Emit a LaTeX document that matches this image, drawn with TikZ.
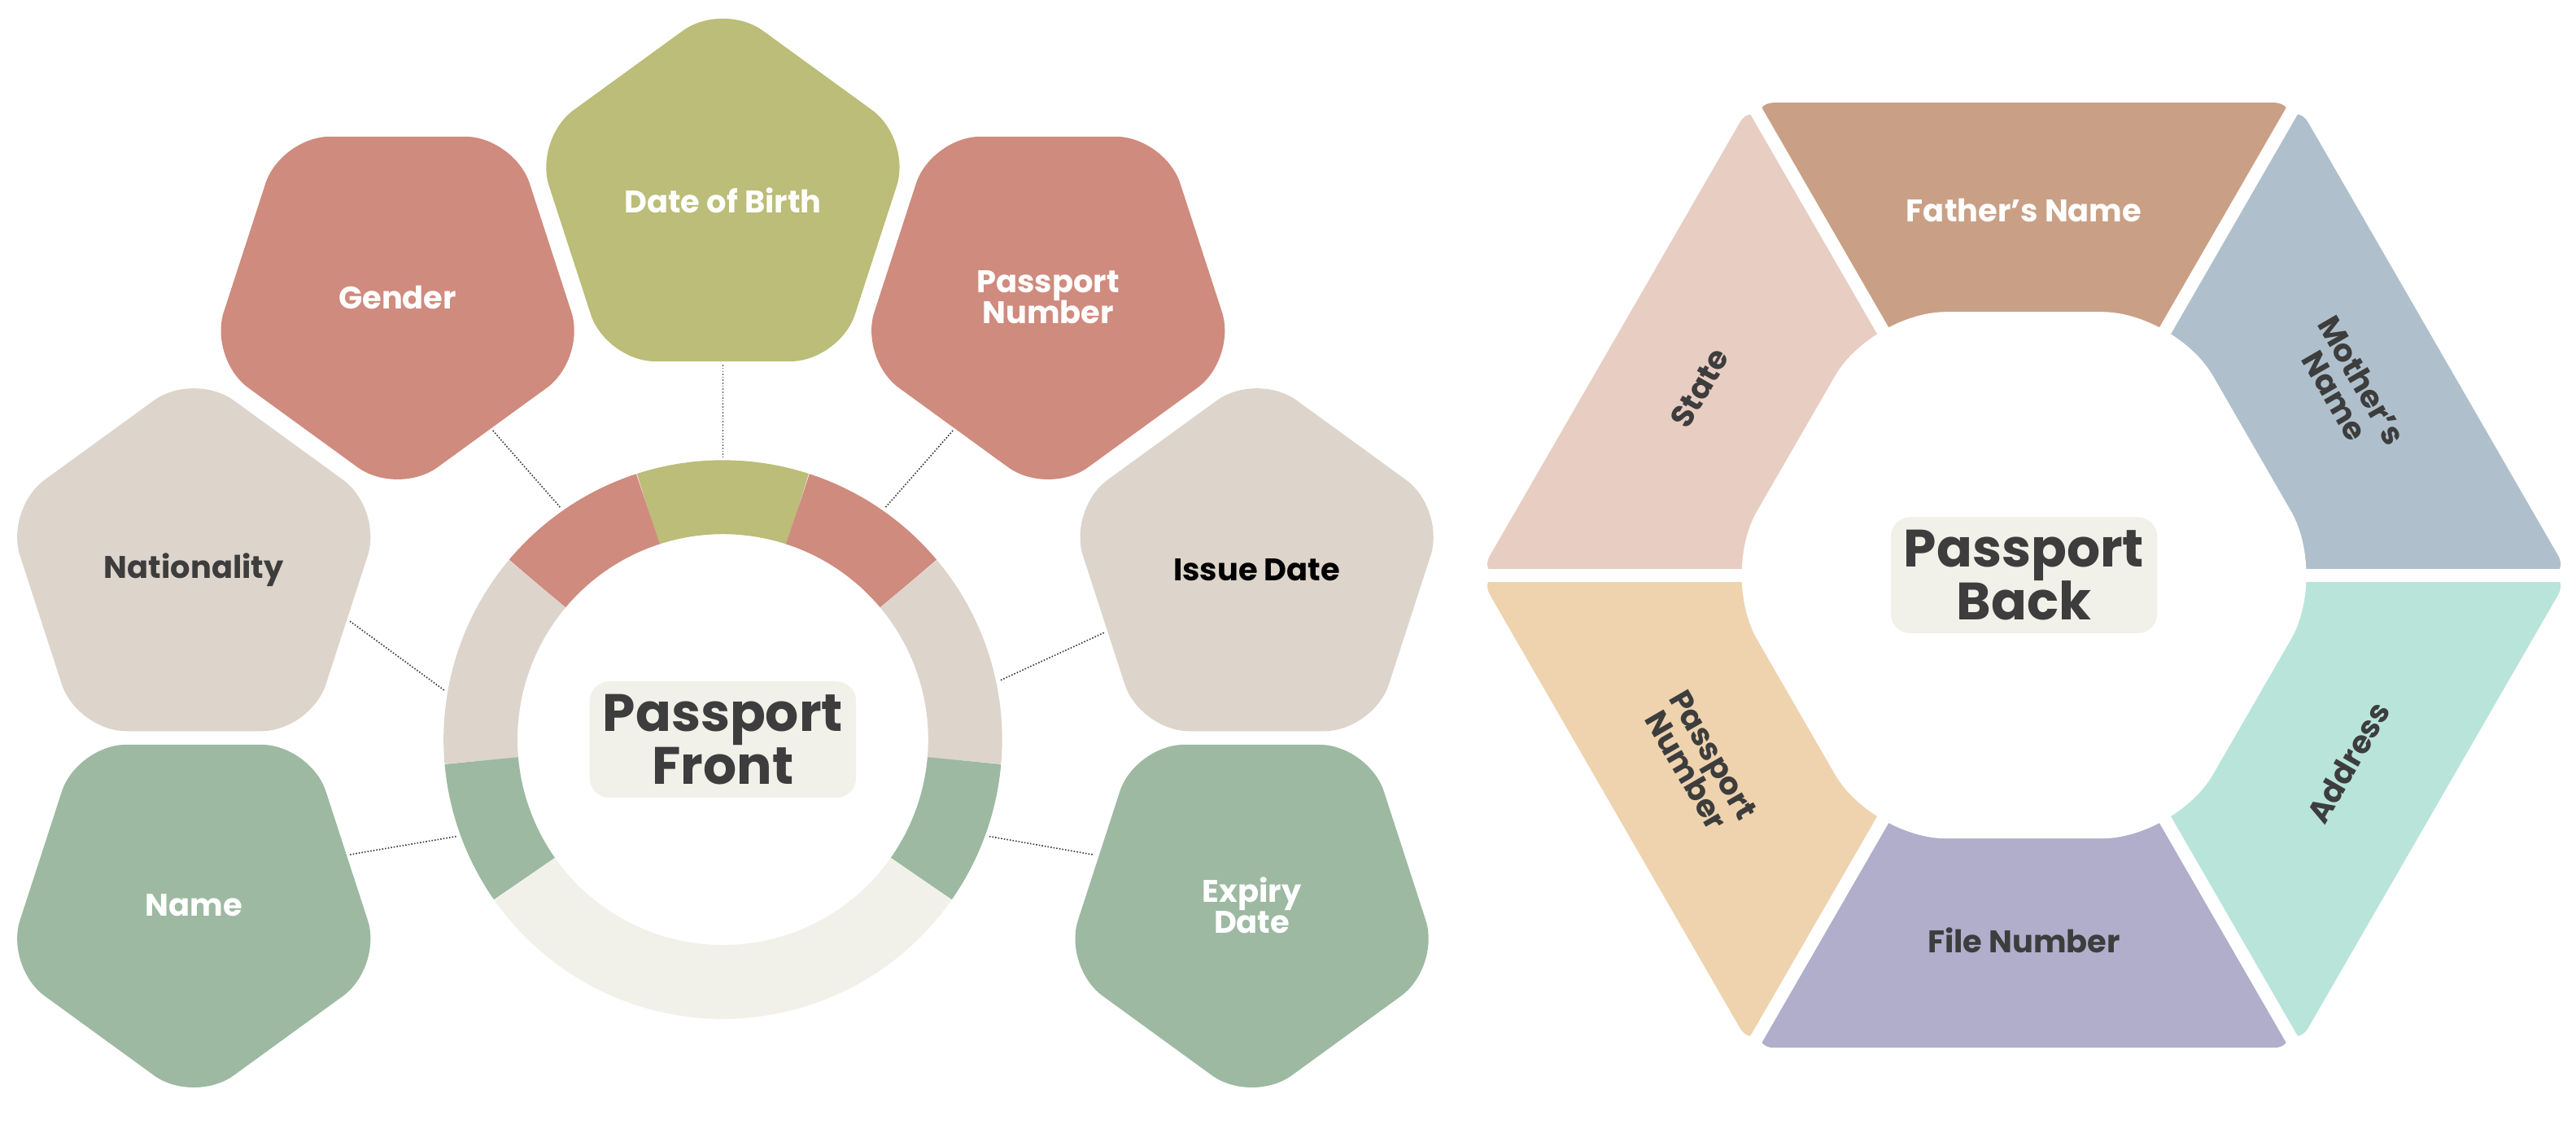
\documentclass[tikz,border=0pt]{standalone}
\usepackage{fontspec}
\setmainfont{Poppins}
\usetikzlibrary{shapes.geometric, calc}
\definecolor{olive}{HTML}{BBBD78}
\definecolor{rose}{HTML}{CF8B7E}
\definecolor{sand}{HTML}{DDD4CB}
\definecolor{sage}{HTML}{9DB9A2}
\definecolor{paper}{HTML}{F1F1EA}
\definecolor{ink}{HTML}{3D3D3D}
\definecolor{father}{HTML}{C9A085}
\definecolor{mother}{HTML}{AFC0CC}
\definecolor{address}{HTML}{B9E4DA}
\definecolor{filenum}{HTML}{B0AECB}
\definecolor{passnum}{HTML}{EED3AE}
\definecolor{state}{HTML}{E8CDC2}
\tikzstyle{penta} = [regular polygon, regular polygon sides=5, minimum size=242pt, inner sep=0pt, rounded corners=30pt, align=center, font=\fontsize{19}{22}\selectfont\bfseries]
\tikzstyle{up} = [penta]
\tikzstyle{down} = [penta, shape border rotate=180]
\tikzstyle{hub} = [fill=paper, rounded corners=12pt, inner sep=8pt, align=center, text=ink, font=\fontsize{32}{36}\selectfont\bfseries]
\tikzstyle{seglabel} = [align=center, text=ink, font=\fontsize{19}{22}\selectfont\bfseries]
\tikzstyle{link} = [densely dotted, thick, ink]
\begin{document}
\begin{tikzpicture}[x=1pt, y=1pt]
    \useasboundingbox (0,0) rectangle (1568,689);

    % Front ring.
    \coordinate (front) at (440,239);
    \foreach \a/\b/\c in {215/325/paper, 72/108/olive, 108/140/rose, 40/72/rose,
                          140/185/sand, -5/40/sand, 185/215/sage, -35/-5/sage} {
        \draw [line width=45pt, \c] ([shift=(\a:147.5)]front) arc (\a:\b:147.5);
    }
    \node (fronthub) [hub] at (front) {Passport\\[-4pt]Front};

    % Pentagons.
    \node (gender) [down, fill=rose, text=white] at (242,508) {Gender};
    \node (birth) [up, fill=olive, text=white] at (440,567) {Date of Birth};
    \node (number) [down, fill=rose, text=white] at (638,508) {Passport\\[-3pt]Number};
    \node (nation) [up, fill=sand, text=ink] at (118,342) {Nationality};
    \node (issue) [up, fill=sand, text=black] at (765,342) {Issue Date};
    \node (name) [down, fill=sage, text=white] at (118,138) {Name};
    \node (expiry) [down, fill=sage, text=white] at (762,138) {Expiry\\[-3pt]Date};

    % Links.
    \foreach \n/\a/\p in {gender/125/{300,427}, birth/90/{440,467}, number/55/{580,427},
                          nation/170/{213,311}, issue/12/{672,304}, name/200/{213,169},
                          expiry/-20/{665,169}} {
        \coordinate (\n end) at ($(front)+(\a:172)$);
        \draw [link] (\p) -- (\n end);
    }

    % Back hexagon.
    \coordinate (back) at (1232,339);
    \foreach \a/\c in {60/father, 0/mother, -60/address, 240/filenum, 180/passnum, 120/state} {
        \fill [\c, rounded corners=14pt] ($(back)+(\a:170)$) -- ($(back)+(\a:332)$)
            -- ($(back)+(\a+60:332)$) -- ($(back)+(\a+60:170)$) -- cycle;
    }
    \foreach \a in {0,60,...,300} {
        \draw [white, line width=8pt] (back) -- ($(back)+(\a:340)$);
    }
    \fill [white, rounded corners=45pt] ($(back)+(0:185)$) \foreach \a in {60,120,...,300} { -- ($(back)+(\a:185)$) } -- cycle;
    \node (backhub) [hub] at (back) {Passport\\[-4pt]Back};

    % Segment labels.
    \node (fatherlabel) [seglabel, text=white] at ($(back)+(90:222)$) {Father’s Name};
    \node (motherlabel) [seglabel, rotate=-60] at ($(back)+(30:228)$) {Mother’s\\[-3pt]Name};
    \node (addresslabel) [seglabel, rotate=60] at ($(back)+(-30:228)$) {Address};
    \node (filelabel) [seglabel] at ($(back)+(-90:222)$) {File Number};
    \node (passlabel) [seglabel, rotate=-60] at ($(back)+(210:228)$) {Passport\\[-3pt]Number};
    \node (statelabel) [seglabel, rotate=60] at ($(back)+(150:228)$) {State};
\end{tikzpicture}
\end{document}
